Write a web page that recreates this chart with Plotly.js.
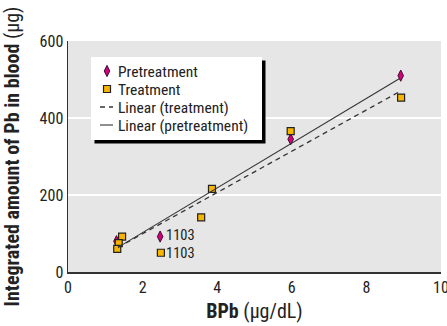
<!DOCTYPE html>
<html>
<head>
<meta charset="utf-8">
<script src="https://cdn.plot.ly/plotly-3.0.1.min.js"></script>
<style>html,body{margin:0;padding:0;background:#fff;}#chart{width:447px;height:326px;}</style>
</head>
<body>
<div id="chart"></div>
<script>
// Pretreatment (diamonds)
const preX = [1.30, 2.47, 5.97, 8.92];
const preY = [80, 92, 345, 510];
// Treatment (squares)
const treatX = [1.45, 1.36, 1.32, 2.49, 3.57, 3.86, 5.97, 8.93];
const treatY = [92, 75, 60, 50, 142, 216, 366, 453];
// Linear fits (endpoints)
const fitX = [1.34, 8.88];
const fitTreatY = [64, 468];
const fitPreY = [64, 502];
// Labelled subject
const labelText = "1103";
const labelPreX = 2.47, labelPreY = 92;
const labelTreatX = 2.49, labelTreatY = 50;

const FONT = "'Liberation Sans Narrow', 'Arial Narrow', 'Roboto Condensed', 'Liberation Sans', sans-serif";
const INK = '#222';

const traces = [
  {x: preX, y: preY, type: 'scatter', mode: 'markers', name: 'Pretreatment',
   marker: {symbol: 'diamond-tall', size: 8, color: '#d4007a', line: {color: '#3a1030', width: 1}}},
  {x: treatX, y: treatY, type: 'scatter', mode: 'markers', name: 'Treatment',
   marker: {symbol: 'square', size: 7, color: '#f7b500', line: {color: '#222', width: 1.2}}},
  {x: fitX, y: fitTreatY, type: 'scatter', mode: 'lines', name: 'Linear (treatment)',
   line: {color: '#333', width: 1.3, dash: '5px,4px'}},
  {x: fitX, y: fitPreY, type: 'scatter', mode: 'lines', name: 'Linear (pretreatment)',
   line: {color: '#333', width: 1.1}}
];

const layout = {
  width: 447, height: 326,
  margin: {l: 68, r: 6, t: 41, b: 54},
  paper_bgcolor: '#fff', plot_bgcolor: '#e6e6e6',
  font: {family: FONT, size: 16, color: INK},
  showlegend: true,
  legend: {x: 0.06, y: 0.925, xanchor: 'left', yanchor: 'top', bgcolor: '#fff',
           borderwidth: 0, font: {family: FONT, size: 15.5, color: INK},
           tracegroupgap: 0, itemwidth: 30},
  xaxis: {range: [0, 10], dtick: 2, showgrid: false, zeroline: false,
          showline: true, linecolor: '#333', linewidth: 1.5, ticks: '',
          ticklabeloverflow: 'allow',
          tickfont: {family: FONT, size: 16, color: INK},
          title: {text: '<b>BPb</b> (μg/dL)', font: {family: FONT, size: 20, color: INK}, standoff: 8}},
  yaxis: {range: [0, 600], dtick: 200, showgrid: true, gridcolor: '#fff', gridwidth: 1.5,
          zeroline: false, showline: true, linecolor: '#333', linewidth: 1.5, ticks: '',
          ticklabeloverflow: 'allow',
          tickfont: {family: FONT, size: 16, color: INK},
          title: {text: '<b>Integrated amount of Pb in blood</b> (μg)', font: {family: FONT, size: 20, color: INK}, standoff: 14}},
  annotations: [
    {x: labelPreX, y: labelPreY, text: labelText, showarrow: false, xanchor: 'left', xshift: 4, yshift: 1,
     font: {family: FONT, size: 14.5, color: INK}},
    {x: labelTreatX, y: labelTreatY, text: labelText, showarrow: false, xanchor: 'left', xshift: 3, yshift: -1,
     font: {family: FONT, size: 14.5, color: INK}}
  ]
};

// Compact legend geometry (as in the reference)
const LEG = {left: 91, top: 57, width: 171, height: 83, first: 14, step: 18, sym: 16, text: 27, shadow: 3.5};

Plotly.newPlot('chart', traces, layout, {displayModeBar: false, staticPlot: true}).then(function(gd){
  const NS = 'http://www.w3.org/2000/svg';
  const leg = gd.querySelector('.legend');
  if (!leg) return;
  leg.setAttribute('transform', 'translate(' + LEG.left + ',' + LEG.top + ')');
  const bg = leg.querySelector('rect.bg');
  if (bg) {
    bg.setAttribute('x', 0); bg.setAttribute('y', 0);
    bg.setAttribute('width', LEG.width); bg.setAttribute('height', LEG.height);
    const sh = document.createElementNS(NS, 'rect');
    sh.setAttribute('x', LEG.shadow); sh.setAttribute('y', LEG.shadow);
    sh.setAttribute('width', LEG.width); sh.setAttribute('height', LEG.height);
    sh.setAttribute('fill', '#000');
    leg.insertBefore(sh, bg);
  }
  const sb = leg.querySelector('.scrollbox');
  if (sb) { sb.setAttribute('transform', 'translate(0,0)'); sb.removeAttribute('clip-path'); }
  const items = leg.querySelectorAll('.traces');
  items.forEach(function(it, i){
    it.setAttribute('transform', 'translate(0,' + (LEG.first + i * LEG.step) + ')');
    const t = it.querySelector('text.legendtext');
    if (t) {
      t.setAttribute('x', LEG.text);
      t.querySelectorAll('tspan').forEach(function(ts){ if (ts.getAttribute('x') !== null) ts.setAttribute('x', LEG.text); });
    }
    it.querySelectorAll('.legendpoints path').forEach(function(p){
      p.setAttribute('transform', 'translate(' + LEG.sym + ',0)');
    });
    it.querySelectorAll('.legendlines path').forEach(function(p){
      p.setAttribute('d', 'M' + (LEG.sym - 7) + ',0h13');
    });
  });
});
</script>
</body>
</html>
